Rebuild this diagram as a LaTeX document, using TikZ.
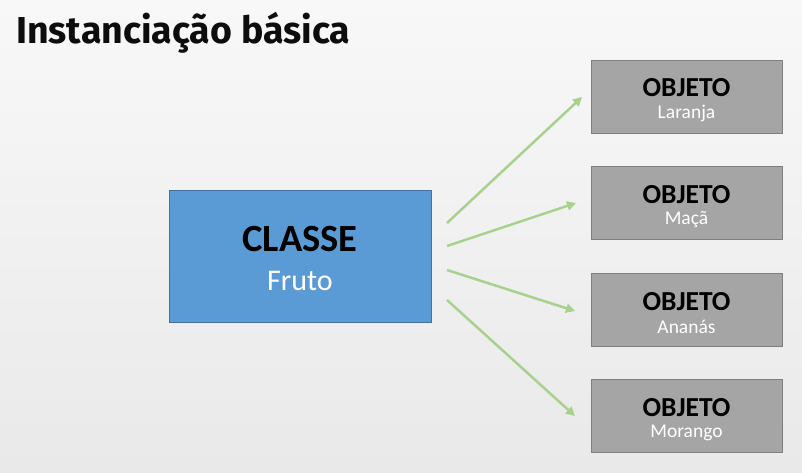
\documentclass[tikz,border=0pt]{standalone}
\usepackage{fontspec}
\setmainfont{Carlito}
\newfontfamily\titlefont{Fira Sans}
\usetikzlibrary{arrows.meta}
\definecolor{bgtop}{RGB}{248,248,248}
\definecolor{bgbot}{RGB}{233,233,234}
\definecolor{clsfill}{RGB}{91,155,213}
\definecolor{clsdraw}{RGB}{65,113,156}
\definecolor{objfill}{RGB}{165,165,165}
\definecolor{objdraw}{RGB}{127,127,127}
\definecolor{arrowgreen}{RGB}{169,209,142}
\tikzset{
  clsbox/.style={draw=clsdraw, fill=clsfill, line width=0.8pt, minimum width=262pt, minimum height=132pt, inner sep=0pt},
  objbox/.style={draw=objdraw, fill=objfill, line width=0.8pt, minimum width=191pt, minimum height=73pt, inner sep=0pt},
  inst/.style={draw=arrowgreen, line width=2.5pt, -{Triangle[length=9pt,width=9pt]}},
  maintext/.style={font=\bfseries\fontsize{38.5}{40}\selectfont, text=black},
  subtext/.style={font=\fontsize{30}{32}\selectfont, text=white},
  objtitle/.style={font=\bfseries\fontsize{27.5}{30}\selectfont, text=black},
  objsub/.style={font=\fontsize{19.5}{22}\selectfont, text=white}
}
\begin{document}
\begin{tikzpicture}[x=1pt,y=-1pt]
\shade[top color=bgtop, bottom color=bgbot] (0,0) rectangle (802,472);
\useasboundingbox (0,0) rectangle (802,472);
\node[anchor=base west, inner sep=0pt, font=\titlefont\bfseries\fontsize{37.5}{42}\selectfont, text={rgb,255:red,13;green,13;blue,13}] (title) at (16,43) {Instanciação básica};
% class
\node[clsbox] (cls) at (300,256) {};
\node[maintext] (clsname) at (300,239) {CLASSE};
\node[subtext] (clssub) at (300,281) {Fruto};
% objects
\foreach \i/\y/\n in {1/96.5/Laranja,2/203/Maçã,3/310/Ananás,4/416/Morango}{
  \node[objbox] (o\i) at (686.5,\y) {};
  \node[objtitle] (o\i t) at (686.5,\y-8.5) {OBJETO};
  \node[objsub] (o\i s) at (686.5,\y+17) {\n};
}
% connector ends
\coordinate (s1) at (447,223);
\coordinate (s2) at (447,246);
\coordinate (s3) at (447,270);
\coordinate (s4) at (447,300);
\coordinate (e1) at (582,97);
\coordinate (e2) at (576,203);
\coordinate (e3) at (575,311);
\coordinate (e4) at (575,416);
\draw[inst] (s1) -- (e1);
\draw[inst] (s2) -- (e2);
\draw[inst] (s3) -- (e3);
\draw[inst] (s4) -- (e4);
\end{tikzpicture}
\end{document}
